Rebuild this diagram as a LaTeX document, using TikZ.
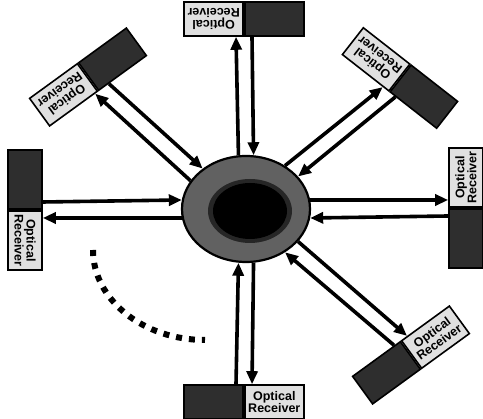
\documentclass[tikz,border=0pt]{standalone}
\usepackage{fontspec}
\newfontfamily\labelfont{Liberation Sans}
\usetikzlibrary{calc,arrows.meta,shapes.geometric}

\begin{document}
\begin{tikzpicture}[x=1pt,y=1pt,
  txbox/.style={draw,line width=1.6pt,fill=black!82,minimum width=59pt,minimum height=34pt,inner sep=0pt},
  rxbox/.style={draw,line width=1.6pt,fill=black!12,minimum width=59pt,minimum height=34pt,inner sep=0pt,
    align=center,font=\labelfont\bfseries\fontsize{12.5}{12}\selectfont},
  link/.style={line width=3.6pt,-{Triangle[length=13pt,width=11pt]}}]
\useasboundingbox (0,0) rectangle (483,419);
% hub
\node[ellipse,draw,line width=2.2pt,fill=black!62,minimum width=128pt,minimum height=106pt,inner sep=0pt] (hub) at (246,210) {};
\fill[black!85] (250,208) ellipse[x radius=42,y radius=32];
\fill[black] (250,208) ellipse[x radius=37,y radius=28];
% south
\coordinate (uS) at (244,17);
\node[txbox,anchor=east] (txS) at (uS) {};
\node[rxbox,anchor=west] (rxS) at (uS) {Optical\\Receiver};
\draw[link] ($(txS.north east)!8pt!(txS.north west)$) -- (hub.262);
\draw[link] (hub.278) -- ($(rxS.north west)!8pt!(rxS.north east)$);
% north
\coordinate (uN) at (244,400);
\node[txbox,rotate=180,anchor=east] (txN) at (uN) {};
\node[rxbox,rotate=180,anchor=west] (rxN) at (uN) {Optical\\Receiver};
\draw[link] ($(txN.north east)!8pt!(txN.north west)$) -- (hub.82);
\draw[link] (hub.98) -- ($(rxN.north west)!8pt!(rxN.north east)$);
% west
\coordinate (uW) at (25,209);
\node[txbox,rotate=270,anchor=east] (txW) at (uW) {};
\node[rxbox,rotate=270,anchor=west] (rxW) at (uW) {Optical\\Receiver};
\draw[link] ($(txW.north east)!8pt!(txW.north west)$) -- (hub.172);
\draw[link] (hub.188) -- ($(rxW.north west)!8pt!(rxW.north east)$);
% east
\coordinate (uE) at (466,211);
\node[txbox,rotate=90,anchor=east] (txE) at (uE) {};
\node[rxbox,rotate=90,anchor=west] (rxE) at (uE) {Optical\\Receiver};
\draw[link] ($(txE.north east)!8pt!(txE.north west)$) -- (hub.352);
\draw[link] (hub.8) -- ($(rxE.north west)!8pt!(rxE.north east)$);
% north east
\coordinate (uNE) at (400,341);
\node[txbox,rotate=142,anchor=east] (txNE) at (uNE) {};
\node[rxbox,rotate=142,anchor=west] (rxNE) at (uNE) {Optical\\Receiver};
\draw[link] ($(txNE.north east)!8pt!(txNE.north west)$) -- (hub.32);
\draw[link] (hub.48) -- ($(rxNE.north west)!8pt!(rxNE.north east)$);
% north west
\coordinate (uNW) at (88,342);
\node[txbox,rotate=216,anchor=east] (txNW) at (uNW) {};
\node[rxbox,rotate=216,anchor=west] (rxNW) at (uNW) {Optical\\Receiver};
\draw[link] ($(txNW.north east)!13pt!(txNW.north west)$) -- (hub.137);
\draw[link] (hub.153) -- ($(rxNW.north west)!4pt!(rxNW.north east)$);
% south east
\coordinate (uSE) at (411,64);
\node[txbox,rotate=36,anchor=east] (txSE) at (uSE) {};
\node[rxbox,rotate=36,anchor=west] (rxSE) at (uSE) {Optical\\Receiver};
\draw[link] ($(txSE.north east)!8pt!(txSE.north west)$) -- (hub.312);
\draw[link] (hub.328) -- ($(rxSE.north west)!8pt!(rxSE.north east)$);
% dashed arc
\draw[line width=6pt,dash pattern=on 6pt off 7pt] (93,169) arc[start angle=180,end angle=270,x radius=112,y radius=90];
\end{tikzpicture}
\end{document}
